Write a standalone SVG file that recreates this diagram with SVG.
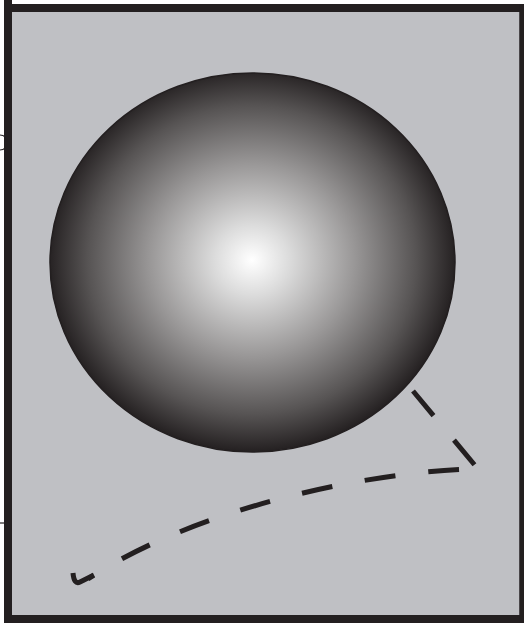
<svg xmlns="http://www.w3.org/2000/svg" width="524" height="623" viewBox="0 0 524 623">
<defs>
<radialGradient id="sph" cx="252" cy="260" r="205" gradientUnits="userSpaceOnUse" gradientTransform="translate(252 260) scale(1 0.94) translate(-252 -260)">
<stop offset="0" stop-color="#ffffff"/>
<stop offset="0.18" stop-color="#dcdcdc"/>
<stop offset="0.5" stop-color="#999797"/>
<stop offset="0.8" stop-color="#575454"/>
<stop offset="1" stop-color="#231f20"/>
</radialGradient>
<style>
.ln{fill:none;stroke:#231f20;stroke-width:5}
</style>
</defs>
<rect width="524" height="623" fill="#ffffff"/>
<g id="frame">
<rect x="8" y="8" width="515.5" height="611" fill="#bfc0c4" stroke="#231f20" stroke-width="8"/>
<rect x="519.5" y="4" width="4.5" height="619" fill="#231f20"/>
<line x1="8" y1="0" x2="8" y2="8" stroke="#231f20" stroke-width="8"/>
<path d="M0,135 A7,7 0 0 1 0,150" fill="none" stroke="#231f20" stroke-width="1.2"/>
<line x1="0" y1="523" x2="4" y2="523" stroke="#231f20" stroke-width="1.2"/>
</g>
<g id="sphere">
<ellipse cx="252.5" cy="262.5" rx="202.5" ry="189.5" fill="url(#sph)" stroke="#231f20" stroke-width="1.5"/>
</g>
<g id="connectors">
<path class="ln" d="M413,391 L478,469" stroke-dasharray="32 32"/>
<path class="ln" d="M478,469 C380,470 200,505 88,579" stroke-dasharray="31 33" stroke-dashoffset="45"/>
<path class="ln" d="M94,575 L80,582 Q74,585 73,573"/>
</g>
</svg>
